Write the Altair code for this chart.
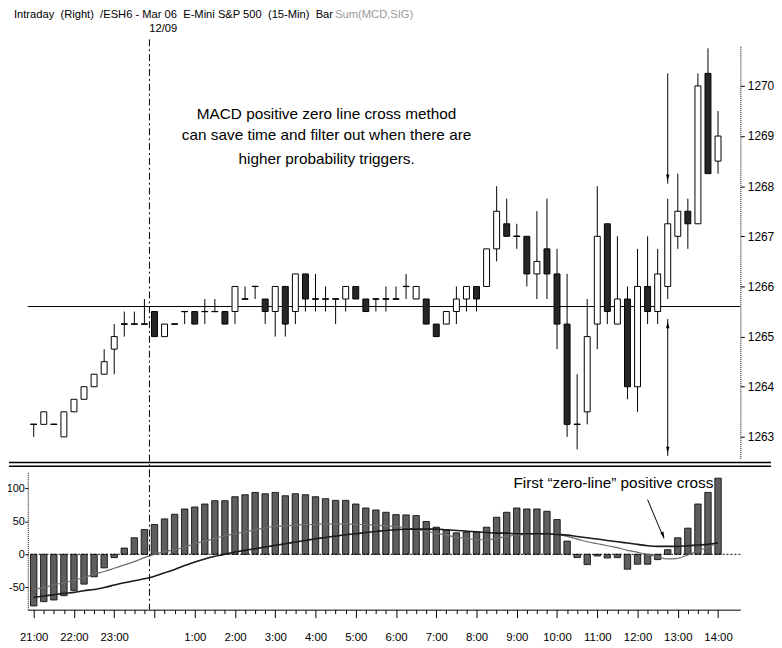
import altair as alt
import pandas as pd

# ---------------- data ----------------
bar_index = list(range(69))  # 15-min bars, 21:00 .. 14:00

opens = [1263.25,1263.25,1263.25,1263.0,1263.5,1263.75,1264.0,1264.25,1264.75,1265.25,
         1265.25,1265.25,1265.5,1265.0,1265.25,1265.5,1265.5,1265.5,1265.5,1265.5,
         1265.5,1265.75,1266.0,1265.75,1265.5,1266.0,1265.5,1266.25,1265.75,1265.75,
         1265.75,1265.75,1266.0,1265.75,1265.75,1265.75,1265.75,1266.0,1265.75,1265.75,
         1265.25,1265.25,1265.5,1265.75,1266.0,1266.0,1266.75,1267.25,1267.0,1267.0,
         1266.25,1266.75,1266.25,1265.25,1263.25,1263.5,1265.25,1267.25,1265.25,1265.75,
         1264.0,1266.0,1265.5,1266.0,1267.0,1267.5,1267.25,1270.25,1268.5]
highs = [1263.25,1263.5,1263.25,1263.5,1263.75,1264.0,1264.25,1264.75,1265.25,1265.5,
         1265.5,1265.75,1265.5,1265.25,1265.25,1265.5,1265.5,1265.75,1265.75,1265.5,
         1266.0,1266.0,1266.0,1265.75,1266.0,1266.0,1266.25,1266.25,1266.25,1266.0,
         1265.75,1266.0,1266.0,1265.75,1265.75,1266.0,1266.0,1266.25,1266.0,1265.75,
         1265.25,1265.5,1266.0,1266.0,1266.0,1266.75,1268.0,1267.75,1267.25,1267.0,
         1267.5,1267.75,1266.75,1266.25,1264.25,1265.75,1268.0,1267.25,1267.0,1266.0,
         1266.75,1267.0,1266.75,1267.75,1268.25,1267.75,1270.25,1270.75,1269.5]
lows = [1263.0,1263.25,1263.25,1263.0,1263.5,1263.75,1264.0,1264.25,1264.25,1265.0,
        1265.25,1265.25,1265.0,1265.0,1265.25,1265.25,1265.25,1265.25,1265.5,1265.25,
        1265.25,1265.75,1265.75,1265.25,1265.0,1265.0,1265.25,1265.5,1265.5,1265.5,
        1265.25,1265.5,1265.75,1265.5,1265.5,1265.5,1265.75,1265.75,1265.75,1265.25,
        1265.0,1265.25,1265.25,1265.5,1265.5,1266.0,1266.5,1267.0,1266.75,1266.0,
        1265.75,1265.75,1264.75,1263.0,1262.75,1263.25,1264.75,1265.25,1265.25,1263.75,
        1263.5,1265.25,1265.25,1265.75,1266.75,1266.75,1267.25,1268.25,1268.25]
closes = [1263.25,1263.5,1263.25,1263.5,1263.75,1264.0,1264.25,1264.5,1265.0,1265.25,
          1265.25,1265.25,1265.0,1265.25,1265.25,1265.5,1265.25,1265.5,1265.5,1265.25,
          1266.0,1265.75,1266.0,1265.5,1266.0,1265.25,1266.25,1265.75,1265.75,1265.75,
          1265.75,1266.0,1265.75,1265.5,1265.75,1265.75,1265.75,1266.0,1266.0,1265.25,
          1265.0,1265.5,1265.75,1266.0,1265.75,1266.75,1267.5,1267.0,1267.0,1266.25,
          1266.5,1266.25,1265.25,1263.25,1263.25,1265.0,1267.0,1265.5,1265.75,1264.0,
          1266.0,1265.5,1266.25,1267.25,1267.5,1267.25,1270.0,1268.25,1269.0]

macd_hist = [-78,-71.5,-69,-62.5,-54.5,-45,-34,-20.5,-5,9.5,
             25,37.5,45,53.5,60.5,68.5,71.5,76,81,81,
             87,90,93.5,91.5,93.5,88.5,91.5,90,87,84,
             81.5,81.5,76,70,67,63.5,60,59.5,58.5,49.5,
             41,37,32.5,33.5,33.5,41,56,63.5,70,68.5,
             68.5,65,52.5,20,-5,-15.5,-2.5,-5.5,-5,-22.5,
             -15,-15,-8,7,25,39.5,76,93.5,115]
macd_line = [-53,-50,-46,-43,-39,-35,-30,-26,-21,-16,
             -11,-5,0,4,7,11,16,20,24,28,
             31,34,37,40,42,43,44,45,45,46,
             46,46,45,45,44,43,42,40,38,35,
             32,29,26,24,22,22,24,27,29,30,
             31,31,30,27,23,19,16,13,10,6,
             3,0,-4,-7,-6,-1,5,11,17]
signal_line = [-65,-63,-61,-59,-57.5,-55,-53,-50,-46.5,-43,
               -40,-37,-33,-28,-23,-17,-11.5,-7,-3,0,
               3.5,6,8.5,11,13.5,16,18.5,21,23.5,25.5,
               27.5,29.5,31,33,34.5,36,37,38,38,38,
               38,37,36,35,34,33,32,32,31,31,
               31,31,30,29,27,25,23,21,19,17,
               15,13,12,12,12,13,14,15,17]

price_ticks = [1263, 1264, 1265, 1266, 1267, 1268, 1269, 1270]
macd_ticks = [-50, 0, 50, 100]
ref_level = 1265.6
day_break = 11.5

note_lines = ["MACD positive zero line cross method",
              "can save time and filter out when there are",
              "higher probability triggers."]
note_y = [1269.43, 1269.01, 1268.54]
note_x = 29.1

NB = "\u00a0"
header_main = ("Intraday" + NB + " (Right)" + NB + " /ESH6 - Mar 06" + NB + " E-Mini S&P 500"
               + NB + " (15-Min)" + NB + " Bar")
header_study = "Sum(MCD,SIG)"
header_date = "12/09"

df = pd.DataFrame({"i": bar_index, "open": opens, "high": highs, "low": lows,
                   "close": closes, "hist": macd_hist, "m": macd_line, "s": signal_line})

# ---------------- layout / style ----------------
FONT = "Liberation Sans, Arial"
W = 721
H_TOP = 418
H_BOT = 140
xs = alt.Scale(domain=[-0.1, 69.73], nice=False, zero=False)
ps = alt.Scale(domain=[1262.57, 1270.81], nice=False, zero=False)
ms = alt.Scale(domain=[-83.6, 125.4], nice=False, zero=False)

one = pd.DataFrame({"k": [0]})
ARROW = "M -0.55 -1 L 0.55 -1 L 0 1 Z"      # narrow head pointing down
ARROW_UP = "M -0.55 1 L 0.55 1 L 0 -1 Z"

price_axis = alt.Axis(orient="right", values=price_ticks, format="d", title=None,
                      grid=False, tickSize=4, tickColor="black", domainColor="black",
                      domainDash=[1, 1], labelFont=FONT, labelFontSize=12,
                      labelColor="black", labelPadding=3)
x_axis = alt.Axis(values=bar_index, title=None, grid=False,
                  labelExpr="(datum.value % 4 != 0 || datum.value == 12) ? '' : (((21 + datum.value / 4) % 24) + ':00')",
                  tickSize={"condition": {"test": "datum.value % 4 == 0", "value": 8}, "value": 4},
                  tickColor="black", domainColor="black", labelFont=FONT, labelFontSize=11.5,
                  labelColor="black", labelPadding=14, labelOverlap=False, labelFlush=False)
m_axis = alt.Axis(orient="left", values=macd_ticks, format="d", title=None, grid=False,
                  labelExpr="replace(datum.label, '\u2212', '-')",
                  tickSize=3, tickColor="black", domainColor="black", domainDash=[1, 1],
                  labelFont=FONT, labelFontSize=11, labelColor="black", labelPadding=0.5)

XT = lambda f: alt.X(f, type="quantitative", scale=xs, axis=None, title=None)
XB = lambda f: alt.X(f, type="quantitative", scale=xs, axis=x_axis, title=None)
P = lambda f: alt.Y(f, type="quantitative", scale=ps, axis=price_axis, title=None)
M = lambda f: alt.Y(f, type="quantitative", scale=ms, axis=m_axis, title=None)

hline = alt.Chart(pd.DataFrame({"v": [ref_level]})).mark_rule(color="black", strokeWidth=1).encode(
    y=P("v"))
vdash_top = alt.Chart(pd.DataFrame({"x": [day_break]})).mark_rule(
    color="black", strokeWidth=1, strokeDash=[7, 3, 2, 3]).encode(
    x=XT("x"), y=alt.value(-6), y2=alt.value(H_TOP + 14))
wick = alt.Chart(df).mark_rule(color="black", strokeWidth=1).encode(
    x=XT("i"), y=P("low"), y2="high:Q")
body = alt.Chart(df).mark_bar(size=6, stroke="black", strokeWidth=1).encode(
    x=XT("i"), y=P("open"), y2="close:Q",
    fill=alt.condition("datum.close > datum.open", alt.value("white"), alt.value("#262626")))
doji = alt.Chart(df).transform_filter("datum.open == datum.close").transform_calculate(
    xl="datum.i - 0.33", xr="datum.i + 0.33").mark_rule(color="black", strokeWidth=1.2).encode(
    x=XT("xl"), x2="xr:Q", y=P("open"))

note = alt.Chart(pd.DataFrame({"t": note_lines, "y": note_y, "x": [note_x] * 3})).mark_text(
    font=FONT, fontSize=15.5, align="center", baseline="middle", color="black").encode(
    x=XT("x"), y=P("y"), text="t:N")

arrow_df = pd.DataFrame({"x": [63], "a1": [1270.25], "a2": [1268.05],
                         "b1": [1265.35], "b2": [1262.62]})
arrow1 = alt.Chart(arrow_df).mark_rule(color="black", strokeWidth=1).encode(
    x=XT("x"), y=P("a1"), y2="a2:Q")
arrow1h = alt.Chart(arrow_df).transform_calculate(hy="datum.a2 + 0.12").mark_point(
    shape=ARROW, filled=True, color="black", size=40, opacity=1).encode(x=XT("x"), y=P("hy"))
arrow2 = alt.Chart(arrow_df).mark_rule(color="black", strokeWidth=1).encode(
    x=XT("x"), y=P("b1"), y2="b2:Q")
arrow2h1 = alt.Chart(arrow_df).transform_calculate(hy="datum.b1 - 0.12").mark_point(
    shape=ARROW_UP, filled=True, color="black", size=40, opacity=1).encode(x=XT("x"), y=P("hy"))
arrow2h2 = alt.Chart(arrow_df).transform_calculate(hy="datum.b2 + 0.12").mark_point(
    shape=ARROW, filled=True, color="black", size=40, opacity=1).encode(x=XT("x"), y=P("hy"))

header1 = alt.Chart(one).mark_text(font=FONT, fontSize=11.3, align="left", baseline="alphabetic",
                                   color="black").encode(
    x=alt.value(-14), y=alt.value(-28), text=alt.value(header_main))
header2 = alt.Chart(one).mark_text(font=FONT, fontSize=11.3, align="left", baseline="alphabetic",
                                   color="#9a9a9a").encode(
    x=alt.value(311), y=alt.value(-28), text=alt.value(header_study))
header3 = alt.Chart(one).mark_text(font=FONT, fontSize=11.3, align="left", baseline="alphabetic",
                                   color="black").encode(
    x=alt.value(123), y=alt.value(-13), text=alt.value(header_date))
sep1 = alt.Chart(one).mark_rule(color="black", strokeWidth=1.5).encode(
    x=alt.value(-19), x2=alt.value(752), y=alt.value(H_TOP + 4))
sep2 = alt.Chart(one).mark_rule(color="black", strokeWidth=1.5).encode(
    x=alt.value(-19), x2=alt.value(752), y=alt.value(H_TOP + 8))

top = alt.layer(hline, vdash_top, wick, body, doji, note, arrow1, arrow1h, arrow2,
                arrow2h1, arrow2h2, header1, header2, header3, sep1, sep2).properties(
    width=W, height=H_TOP)

# ---------------- MACD panel ----------------
hist = alt.Chart(df).transform_calculate(z="0").mark_bar(
    size=6.5, fill="#5e5e5e", stroke="black", strokeWidth=0.8).encode(
    x=XB("i"), y=M("hist"), y2="z:Q")
zero = alt.Chart(pd.DataFrame({"z": [0]})).mark_rule(color="black", strokeWidth=1,
                                                     strokeDash=[2, 2]).encode(y=M("z"))
l_macd = alt.Chart(df).mark_line(color="#6e6e6e", strokeWidth=1.2, interpolate="monotone").encode(
    x=XB("i"), y=M("m"))
l_sig = alt.Chart(df).mark_line(color="#1a1a1a", strokeWidth=1.6, interpolate="monotone").encode(
    x=XB("i"), y=M("s"))
vdash_bot = alt.Chart(pd.DataFrame({"x": [day_break]})).mark_rule(
    color="black", strokeWidth=1, strokeDash=[7, 3, 2, 3]).encode(
    x=XB("x"), y=alt.value(-1), y2=alt.value(H_BOT))
cross_txt = alt.Chart(pd.DataFrame({"x": [57.6], "y": [107.5],
                                    "t": ["First \u201czero-line\u201d positive cross"]})).mark_text(
    font=FONT, fontSize=15.5, align="center", baseline="middle", color="black").encode(
    x=XB("x"), y=M("y"), text="t:N")
cross_arrow_df = pd.DataFrame({"x1": [61.0], "y1": [82.5], "x2": [62.62], "y2": [24.0]})
cross_arrow = alt.Chart(cross_arrow_df).mark_rule(color="black", strokeWidth=1).encode(
    x=XB("x1"), x2="x2:Q", y=M("y1"), y2="y2:Q")
cross_head = alt.Chart(cross_arrow_df).transform_calculate(hx="datum.x2 - 0.08", hy="datum.y2 + 5").mark_point(
    shape=ARROW, filled=True, color="black", size=40, opacity=1, angle=337).encode(
    x=XB("hx"), y=M("hy"))

bottom = alt.layer(hist, zero, l_macd, l_sig, vdash_bot, cross_txt, cross_arrow, cross_head).properties(
    width=W, height=H_BOT)

chart = alt.vconcat(top, bottom, spacing=13, bounds="flush").properties(
    padding={"top": -3, "left": -2, "bottom": -3, "right": 0},
    background="white").configure_view(stroke=None)

chart.save("out.html", embed_options={"renderer": "svg", "actions": False})
